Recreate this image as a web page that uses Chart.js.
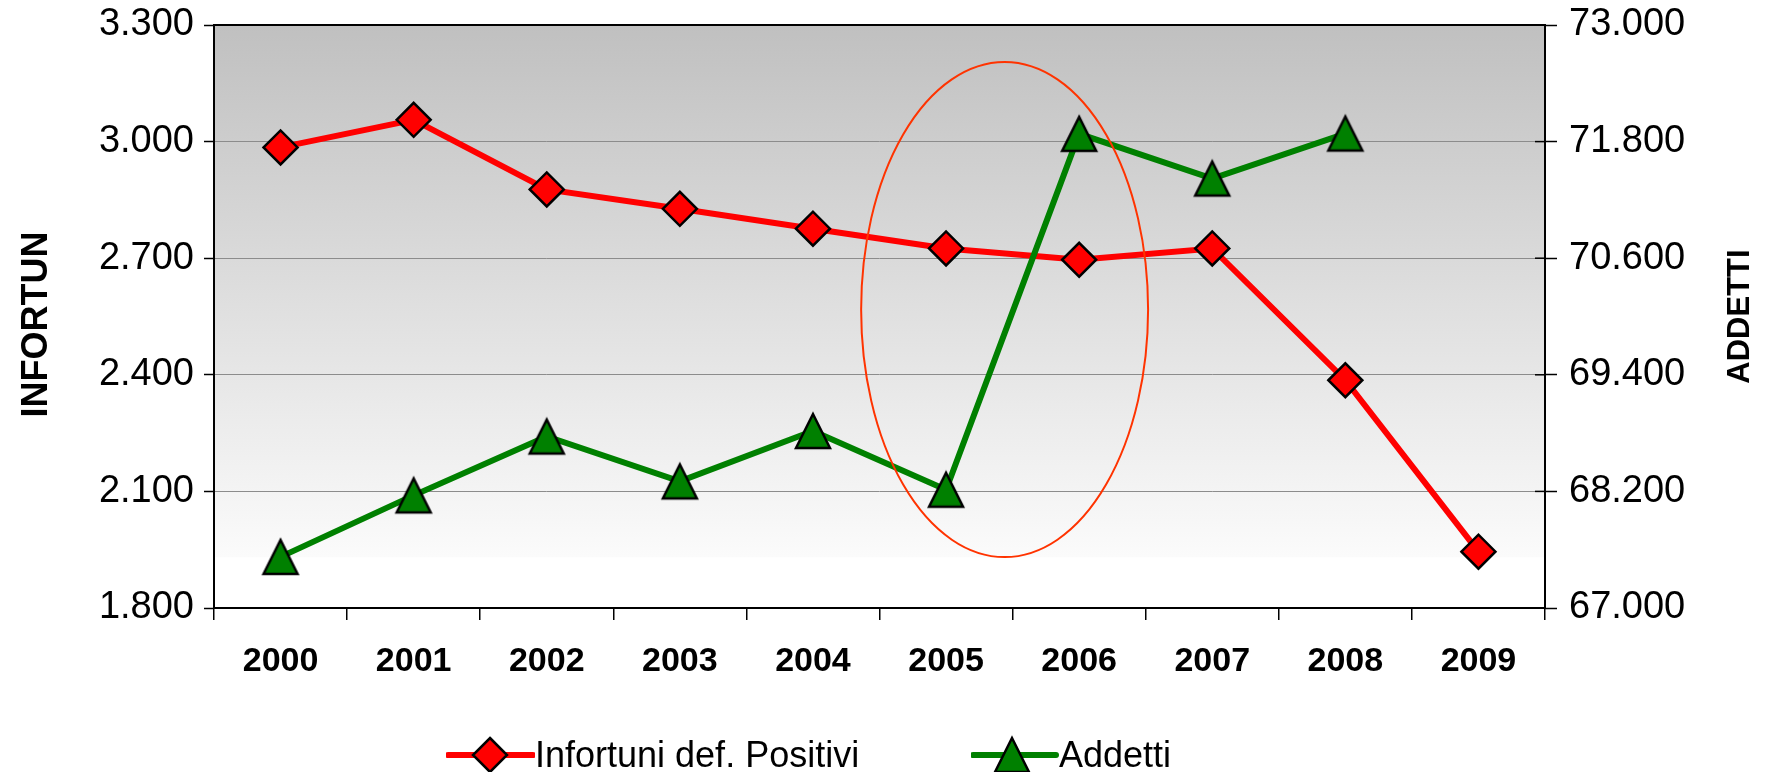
<!DOCTYPE html>
<html>
<head>
<meta charset="utf-8">
<title>Infortuni / Addetti</title>
<script src="https://cdn.jsdelivr.net/npm/chart.js@4.4.1/dist/chart.umd.min.js"></script>
<style>
    html, body { margin: 0; padding: 0; background: #fff; }
    #wrap { position: relative; width: 1767px; height: 772px; }
    #legend { position: absolute; left: 0; top: 735px; width: 1767px; height: 40px;
              font-family: "Liberation Sans", Arial, sans-serif; font-size: 36px; color: #000; }
    .item { position: absolute; top: 0; height: 40px; display: flex; align-items: center; white-space: nowrap; }
    .item svg { display: block; }
</style>
</head>
<body>
<div id="wrap">
    <canvas id="chart" width="1767" height="772"></canvas>
    <div id="legend">
        <div class="item" style="left:446px">
            <svg width="89" height="40"><line x1="2" y1="20" x2="87" y2="20" stroke="#ff0000" stroke-width="6" stroke-linecap="round"/><polygon points="44,3 61,20 44,37 27,20" fill="#ff0000" stroke="#000" stroke-width="2.5"/></svg>
            <span>Infortuni def. Positivi</span>
        </div>
        <div class="item" style="left:971px">
            <svg width="88" height="40"><line x1="2" y1="20" x2="85" y2="20" stroke="#008000" stroke-width="6" stroke-linecap="round"/><polygon points="41,3 58,37 24,37" fill="#008000" stroke="#000" stroke-width="2.5"/></svg>
            <span>Addetti</span>
        </div>
    </div>
</div>
<script>
// Dati
const years = ['2000', '2001', '2002', '2003', '2004', '2005', '2006', '2007', '2008', '2009'];
const infortuni = [2985, 3056, 2877, 2827, 2776, 2725, 2696, 2725, 2386, 1945];
const addetti = [67526, 68159, 68765, 68303, 68821, 68217, 71880, 71420, 71883, null];

const leftRange = [1800, 3300];
const leftStep = 300;
const rightRange = [67000, 73000];
const rightStep = 1200;

// ellisse di evidenziazione (indice categoria / valori asse sinistro)
const highlightCenter = 5.44;
const highlightHalfWidth = 1.078;
const highlightTop = 3205;
const highlightBottom = 1931;

const FONT = '"Liberation Sans", Arial, sans-serif';
Chart.defaults.font.family = FONT;
Chart.defaults.color = '#000';

const fmt = v => String(v).replace(/\B(?=(\d{3})+(?!\d))/g, '.');

function triangleImage(fill) {
    const c = document.createElement('canvas');
    c.width = 42; c.height = 42;
    const g = c.getContext('2d');
    g.beginPath();
    g.moveTo(21, 4);
    g.lineTo(38, 38);
    g.lineTo(4, 38);
    g.closePath();
    g.fillStyle = fill;
    g.fill();
    g.lineWidth = 2.5;
    g.strokeStyle = '#000';
    g.stroke();
    return c;
}

const backgroundPlugin = {
    id: 'background',
    beforeDraw(chart) {
        const { ctx, chartArea: a } = chart;
        ctx.save();
        ctx.fillStyle = '#fff';
        ctx.fillRect(0, 0, chart.width, chart.height);
        const end = a.top + (a.bottom - a.top) * 0.913;
        const grad = ctx.createLinearGradient(0, a.top, 0, end);
        grad.addColorStop(0, '#c0c0c0');
        grad.addColorStop(1, '#fbfbfb');
        ctx.fillStyle = grad;
        ctx.fillRect(a.left, a.top, a.right - a.left, end - a.top);
        ctx.restore();
    }
};

function drawTitle(ctx, text, size, x, y) {
    ctx.save();
    ctx.font = 'bold ' + size + 'px ' + FONT;
    ctx.fillStyle = '#000';
    ctx.textAlign = 'center';
    ctx.textBaseline = 'middle';
    ctx.translate(x, y);
    ctx.rotate(-Math.PI / 2);
    ctx.fillText(text, 0, 0);
    ctx.restore();
}

const framePlugin = {
    id: 'frame',
    beforeDatasetsDraw(chart) {
        const { ctx, chartArea: a } = chart;
        const y1 = chart.scales.y1;
        ctx.save();
        ctx.strokeStyle = '#000';
        ctx.lineWidth = 2;
        ctx.strokeRect(a.left, a.top, a.right - a.left, a.bottom - a.top);
        // tacche interne asse destro
        ctx.lineWidth = 1.5;
        y1.ticks.forEach((t, i) => {
            const y = y1.getPixelForTick(i);
            ctx.beginPath();
            ctx.moveTo(a.right - 10, y);
            ctx.lineTo(a.right, y);
            ctx.stroke();
        });
        ctx.restore();
    },
    afterDraw(chart) {
        const { ctx, chartArea: a } = chart;
        const mid = (a.top + a.bottom) / 2;
        drawTitle(ctx, 'INFORTUN', 36, chart.scales.y.left + 37, mid + 8);
        drawTitle(ctx, 'ADDETTI', 31, chart.scales.y1.right - 27, mid);
    }
};

const ellipsePlugin = {
    id: 'highlight',
    afterDatasetsDraw(chart) {
        const { ctx, scales } = chart;
        const x = scales.x, y = scales.y;
        const cx = x.getPixelForValue(highlightCenter);
        const rx = Math.abs(x.getPixelForValue(highlightCenter + highlightHalfWidth) - cx);
        const top = y.getPixelForValue(highlightTop);
        const bottom = y.getPixelForValue(highlightBottom);
        ctx.save();
        ctx.strokeStyle = '#ff3300';
        ctx.lineWidth = 2;
        ctx.beginPath();
        ctx.ellipse(cx, (top + bottom) / 2, rx, (bottom - top) / 2, 0, 0, Math.PI * 2);
        ctx.stroke();
        ctx.restore();
    }
};

// larghezza fissa degli assi verticali, senza margine extra sopra/sotto
const fixVertical = w => s => {
    s.width = w;
    s.paddingTop = 0;
    s.paddingBottom = 0;
};

new Chart(document.getElementById('chart').getContext('2d'), {
    type: 'line',
    data: {
        labels: years,
        datasets: [
            {
                label: 'Infortuni def. Positivi',
                data: infortuni,
                yAxisID: 'y',
                order: 2,
                borderColor: '#ff0000',
                borderWidth: 6,
                pointStyle: 'rectRot',
                pointRadius: 17,
                pointHoverRadius: 17,
                pointBackgroundColor: '#ff0000',
                pointBorderColor: '#000',
                pointBorderWidth: 2.5,
                tension: 0,
                clip: false
            },
            {
                label: 'Addetti',
                data: addetti,
                yAxisID: 'y1',
                order: 1,
                borderColor: '#008000',
                borderWidth: 6,
                pointStyle: triangleImage('#008000'),
                pointRadius: 17,
                pointHoverRadius: 17,
                tension: 0,
                spanGaps: false,
                clip: false
            }
        ]
    },
    options: {
        responsive: false,
        animation: false,
        layout: { padding: { left: 0, right: 0, top: 25, bottom: 74 } },
        plugins: { legend: { display: false }, tooltip: { enabled: false } },
        scales: {
            x: {
                type: 'category',
                offset: true,
                grid: { offset: true, drawOnChartArea: false, tickLength: 12, color: '#000', lineWidth: 1.5 },
                border: { display: false },
                ticks: { font: { size: 34, weight: 'bold' }, color: '#000', padding: 21, maxRotation: 0, autoSkip: false },
                afterFit: s => { s.height = 90; }
            },
            y: {
                position: 'left',
                min: leftRange[0],
                max: leftRange[1],
                ticks: { stepSize: leftStep, font: { size: 38 }, color: '#000', padding: 10, callback: v => fmt(v) },
                grid: { color: '#8c8c8c', lineWidth: 1, tickLength: 10, tickColor: '#000', tickWidth: 1.5 },
                border: { display: false },
                afterFit: fixVertical(214)
            },
            y1: {
                position: 'right',
                min: rightRange[0],
                max: rightRange[1],
                ticks: { stepSize: rightStep, font: { size: 38 }, color: '#000', padding: 12, callback: v => fmt(v) },
                grid: { drawOnChartArea: false, tickLength: 12, tickColor: '#000', tickWidth: 1.5 },
                border: { display: false },
                afterFit: fixVertical(222)
            }
        }
    },
    plugins: [backgroundPlugin, framePlugin, ellipsePlugin]
});
</script>
</body>
</html>
